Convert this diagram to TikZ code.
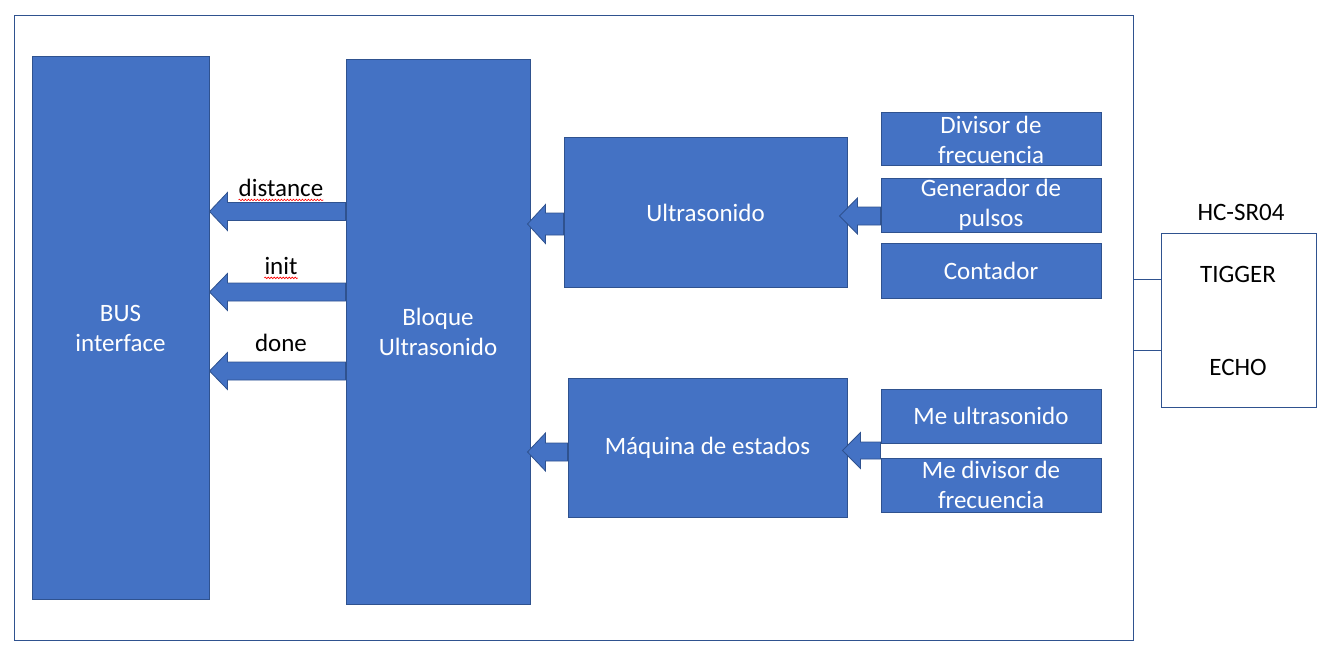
\documentclass[tikz,border=0pt]{standalone}
\usepackage{fontspec}
\setmainfont{Carlito}
\usetikzlibrary{calc,decorations.pathmorphing}
\definecolor{boxfill}{HTML}{4472C4}
\definecolor{boxline}{HTML}{2F528F}
\tikzset{
  blk/.style={draw=boxline, line width=1pt, fill=boxfill, text=white, align=center, inner sep=0pt,
    font=\fontsize{25}{30}\selectfont},
  arw/.style={draw=boxline, line width=0.8pt, fill=boxfill, line join=miter},
  lbl/.style={font=\fontsize{25}{30}\selectfont, text=black, inner sep=0pt},
  frame/.style={draw=boxline, line width=1pt},
  squig/.style={draw=red, line width=0.6pt, decorate, decoration={snake, amplitude=0.8pt, segment length=3pt}}
}
% #1 tail node, #2 tip node, #3 y centre, #4 shaft half, #5 head half, #6 head length, #7 tip x offset
\newcommand{\fatarrow}[7]{%
  \filldraw[arw] ($(#2.east |- 0,#3)+(#7,0)$)
    -- ($(#2.east |- 0,#3)+(#7+#6,-#5)$)
    -- ($(#2.east |- 0,#3)+(#7+#6,-#4)$)
    -- ($(#1.west |- 0,#3)+(0,-#4)$)
    -- ($(#1.west |- 0,#3)+(0,#4)$)
    -- ($(#2.east |- 0,#3)+(#7+#6,#4)$)
    -- ($(#2.east |- 0,#3)+(#7+#6,#5)$)
    -- cycle;}
\begin{document}
\begin{tikzpicture}[x=1pt,y=-1pt]
\useasboundingbox (0,0) rectangle (1328,658);
% outer frame
\node[frame, minimum width=1119pt, minimum height=624pt, inner sep=0pt] (outer) at (573.5,328) {};
% blocks
\node[blk, minimum width=177pt, minimum height=542pt] (bus) at (120.5,328) {BUS\\interface};
\node[blk, minimum width=184pt, minimum height=544pt] (bloque) at (438,332) {Bloque\\Ultrasonido};
\node[blk, minimum width=283pt, minimum height=149pt] (ultra) at (705.5,212.5) {Ultrasonido};
\node[blk, minimum width=279pt, minimum height=139pt] (maq) at (707.5,447.5) {Máquina de estados};
\node[blk, minimum width=220pt, minimum height=53pt] (div) at (991,139.5) {Divisor de\\frecuencia};
\node[blk, minimum width=220pt, minimum height=54pt] (gen) at (991,205) {Generador de\\pulsos};
\node[blk, minimum width=220pt, minimum height=55pt] (cont) at (991,270.5) {Contador};
\node[blk, minimum width=220pt, minimum height=54pt] (meult) at (991,416) {Me ultrasonido};
\node[blk, minimum width=220pt, minimum height=54pt] (mediv) at (991,485) {Me divisor de\\frecuencia};
% HC-SR04
\node[frame, minimum width=155pt, minimum height=174pt, inner sep=0pt] (hc) at (1238.5,320) {};
\node[lbl] (hclbl) at (1241,212) {HC-SR04};
\node[lbl] (trig) at (1238,274) {TIGGER};
\node[lbl] (echo) at (1238,367) {ECHO};
\draw[boxline, line width=1pt] (outer.east |- 0,279) -- (hc.west |- 0,279);
\draw[boxline, line width=1pt] (outer.east |- 0,350) -- (hc.west |- 0,350);
% signal labels
\node[lbl] (ldist) at (281,188) {distance};
\node[lbl] (linit) at (281,266) {init};
\node[lbl] (ldone) at (281,343) {done};
\draw[squig] ($(ldist.south west)+(0,3)$) -- ($(ldist.south east)+(0,3)$);
\draw[squig] ($(linit.south west)+(0,3)$) -- ($(linit.south east)+(0,3)$);
% arrows
\fatarrow{bloque}{bus}{211.5}{9}{19}{18}{0}
\fatarrow{bloque}{bus}{292}{9}{18.5}{18}{0}
\fatarrow{bloque}{bus}{371}{9}{18.5}{18}{0}
\fatarrow{ultra}{bloque}{224}{11}{19.5}{18}{-3}
\fatarrow{maq}{bloque}{452}{9}{19}{18}{-3}
\fatarrow{gen}{ultra}{216}{9}{18}{18}{-8}
\fatarrow{meult}{maq}{450.5}{8.5}{18}{18}{-5}
\end{tikzpicture}
\end{document}
